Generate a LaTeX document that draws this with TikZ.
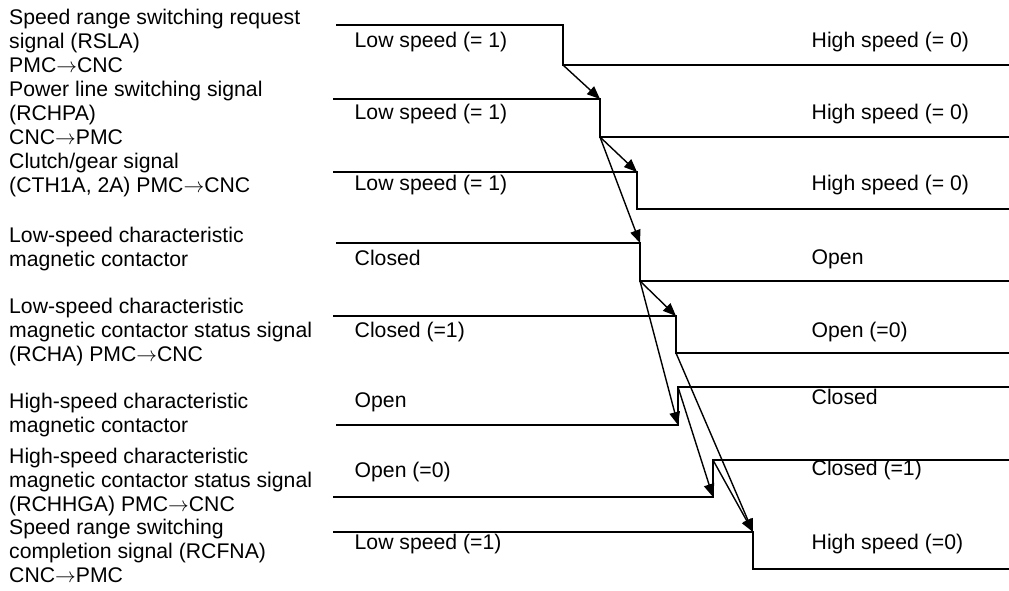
\documentclass[tikz,border=0pt]{standalone}
\usepackage{fontspec}
\setmainfont{Liberation Sans}
\usetikzlibrary{arrows.meta}

\newcommand{\dirto}{\ensuremath{\rightarrow}}

\begin{document}
\begin{tikzpicture}[
    x=1pt, y=-1pt,
    wave/.style={line width=1.6pt, black},
    sigtext/.style={font=\fontsize{21.2}{24}\selectfont, align=left,
                    inner sep=0pt, anchor=north west},
    lvltext/.style={font=\fontsize{21.2}{24}\selectfont, inner sep=0pt,
                    anchor=base west},
    arr/.style={-{Triangle[length=13pt, width=10.5pt]}, line width=1.4pt}
]
\useasboundingbox (0,0) rectangle (1009,590);

% ===================================================================
% SIGNAL NAMES
% ===================================================================
\node[sigtext] (lbl-rsla) at (9,8.5)
    {Speed range switching request\\signal (RSLA)\\PMC\dirto CNC};
\node[sigtext] (lbl-rchpa) at (9,80.5)
    {Power line switching signal\\(RCHPA)\\CNC\dirto PMC};
\node[sigtext] (lbl-cth) at (9,152.5)
    {Clutch/gear signal\\(CTH1A, 2A) PMC\dirto CNC};
\node[sigtext] (lbl-lsmc) at (9,226.5)
    {Low-speed characteristic\\magnetic contactor};
\node[sigtext] (lbl-rcha) at (9,297.5)
    {Low-speed characteristic\\magnetic contactor status signal\\(RCHA) PMC\dirto CNC};
\node[sigtext] (lbl-hsmc) at (9,392.5)
    {High-speed characteristic\\magnetic contactor};
\node[sigtext] (lbl-rchhga) at (9,447.5)
    {High-speed characteristic\\magnetic contactor status signal\\(RCHHGA) PMC\dirto CNC};
\node[sigtext] (lbl-rcfna) at (9,518.5)
    {Speed range switching\\completion signal (RCFNA)\\CNC\dirto PMC};

% ===================================================================
% WAVEFORMS
% ===================================================================
\foreach \n/\xs/\xt/\ya/\yb in {rsla/336/563/25/65, rchpa/333/600/99/137,
        cth/333/637/172/209, lsmc/336/640/243/281, rcha/333/676/316/353,
        hsmc/336/678/425/387, rchhga/333/713/497/460, rcfna/333/753/532/569} {
    \coordinate (\n-a) at (\xt,\ya);
    \coordinate (\n-b) at (\xt,\yb);
    \draw[wave] (\xs,\ya) -- (\n-a) -- (\n-b) -- (1009,\yb);
}

% ===================================================================
% LEVELS
% ===================================================================
\node[lvltext] (rsla-old) at (354.5,47) {Low speed (= 1)};
\node[lvltext] (rsla-new) at (811.5,47) {High speed (= 0)};
\node[lvltext] (rchpa-old) at (354.5,119) {Low speed (= 1)};
\node[lvltext] (rchpa-new) at (811.5,119) {High speed (= 0)};
\node[lvltext] (cth-old) at (354.5,190) {Low speed (= 1)};
\node[lvltext] (cth-new) at (811.5,190) {High speed (= 0)};
\node[lvltext] (lsmc-old) at (354.5,265) {Closed};
\node[lvltext] (lsmc-new) at (811.5,264) {Open};
\node[lvltext] (rcha-old) at (354.5,337) {Closed (=1)};
\node[lvltext] (rcha-new) at (811.5,337) {Open (=0)};
\node[lvltext] (hsmc-old) at (354.5,407) {Open};
\node[lvltext] (hsmc-new) at (811.5,404) {Closed};
\node[lvltext] (rchhga-old) at (354.5,477) {Open (=0)};
\node[lvltext] (rchhga-new) at (811.5,475) {Closed (=1)};
\node[lvltext] (rcfna-old) at (354.5,549) {Low speed (=1)};
\node[lvltext] (rcfna-new) at (811.5,549) {High speed (=0)};

% ===================================================================
% ARROWS
% ===================================================================
\foreach \a/\b in {rsla-b/rchpa-a, rchpa-b/cth-a, rchpa-b/lsmc-a,
                   lsmc-b/rcha-a, lsmc-b/hsmc-a, rcha-b/rcfna-a,
                   hsmc-b/rchhga-a, rchhga-b/rcfna-a} {
    \draw[arr] (\a) -- (\b);
}

\end{tikzpicture}
\end{document}
